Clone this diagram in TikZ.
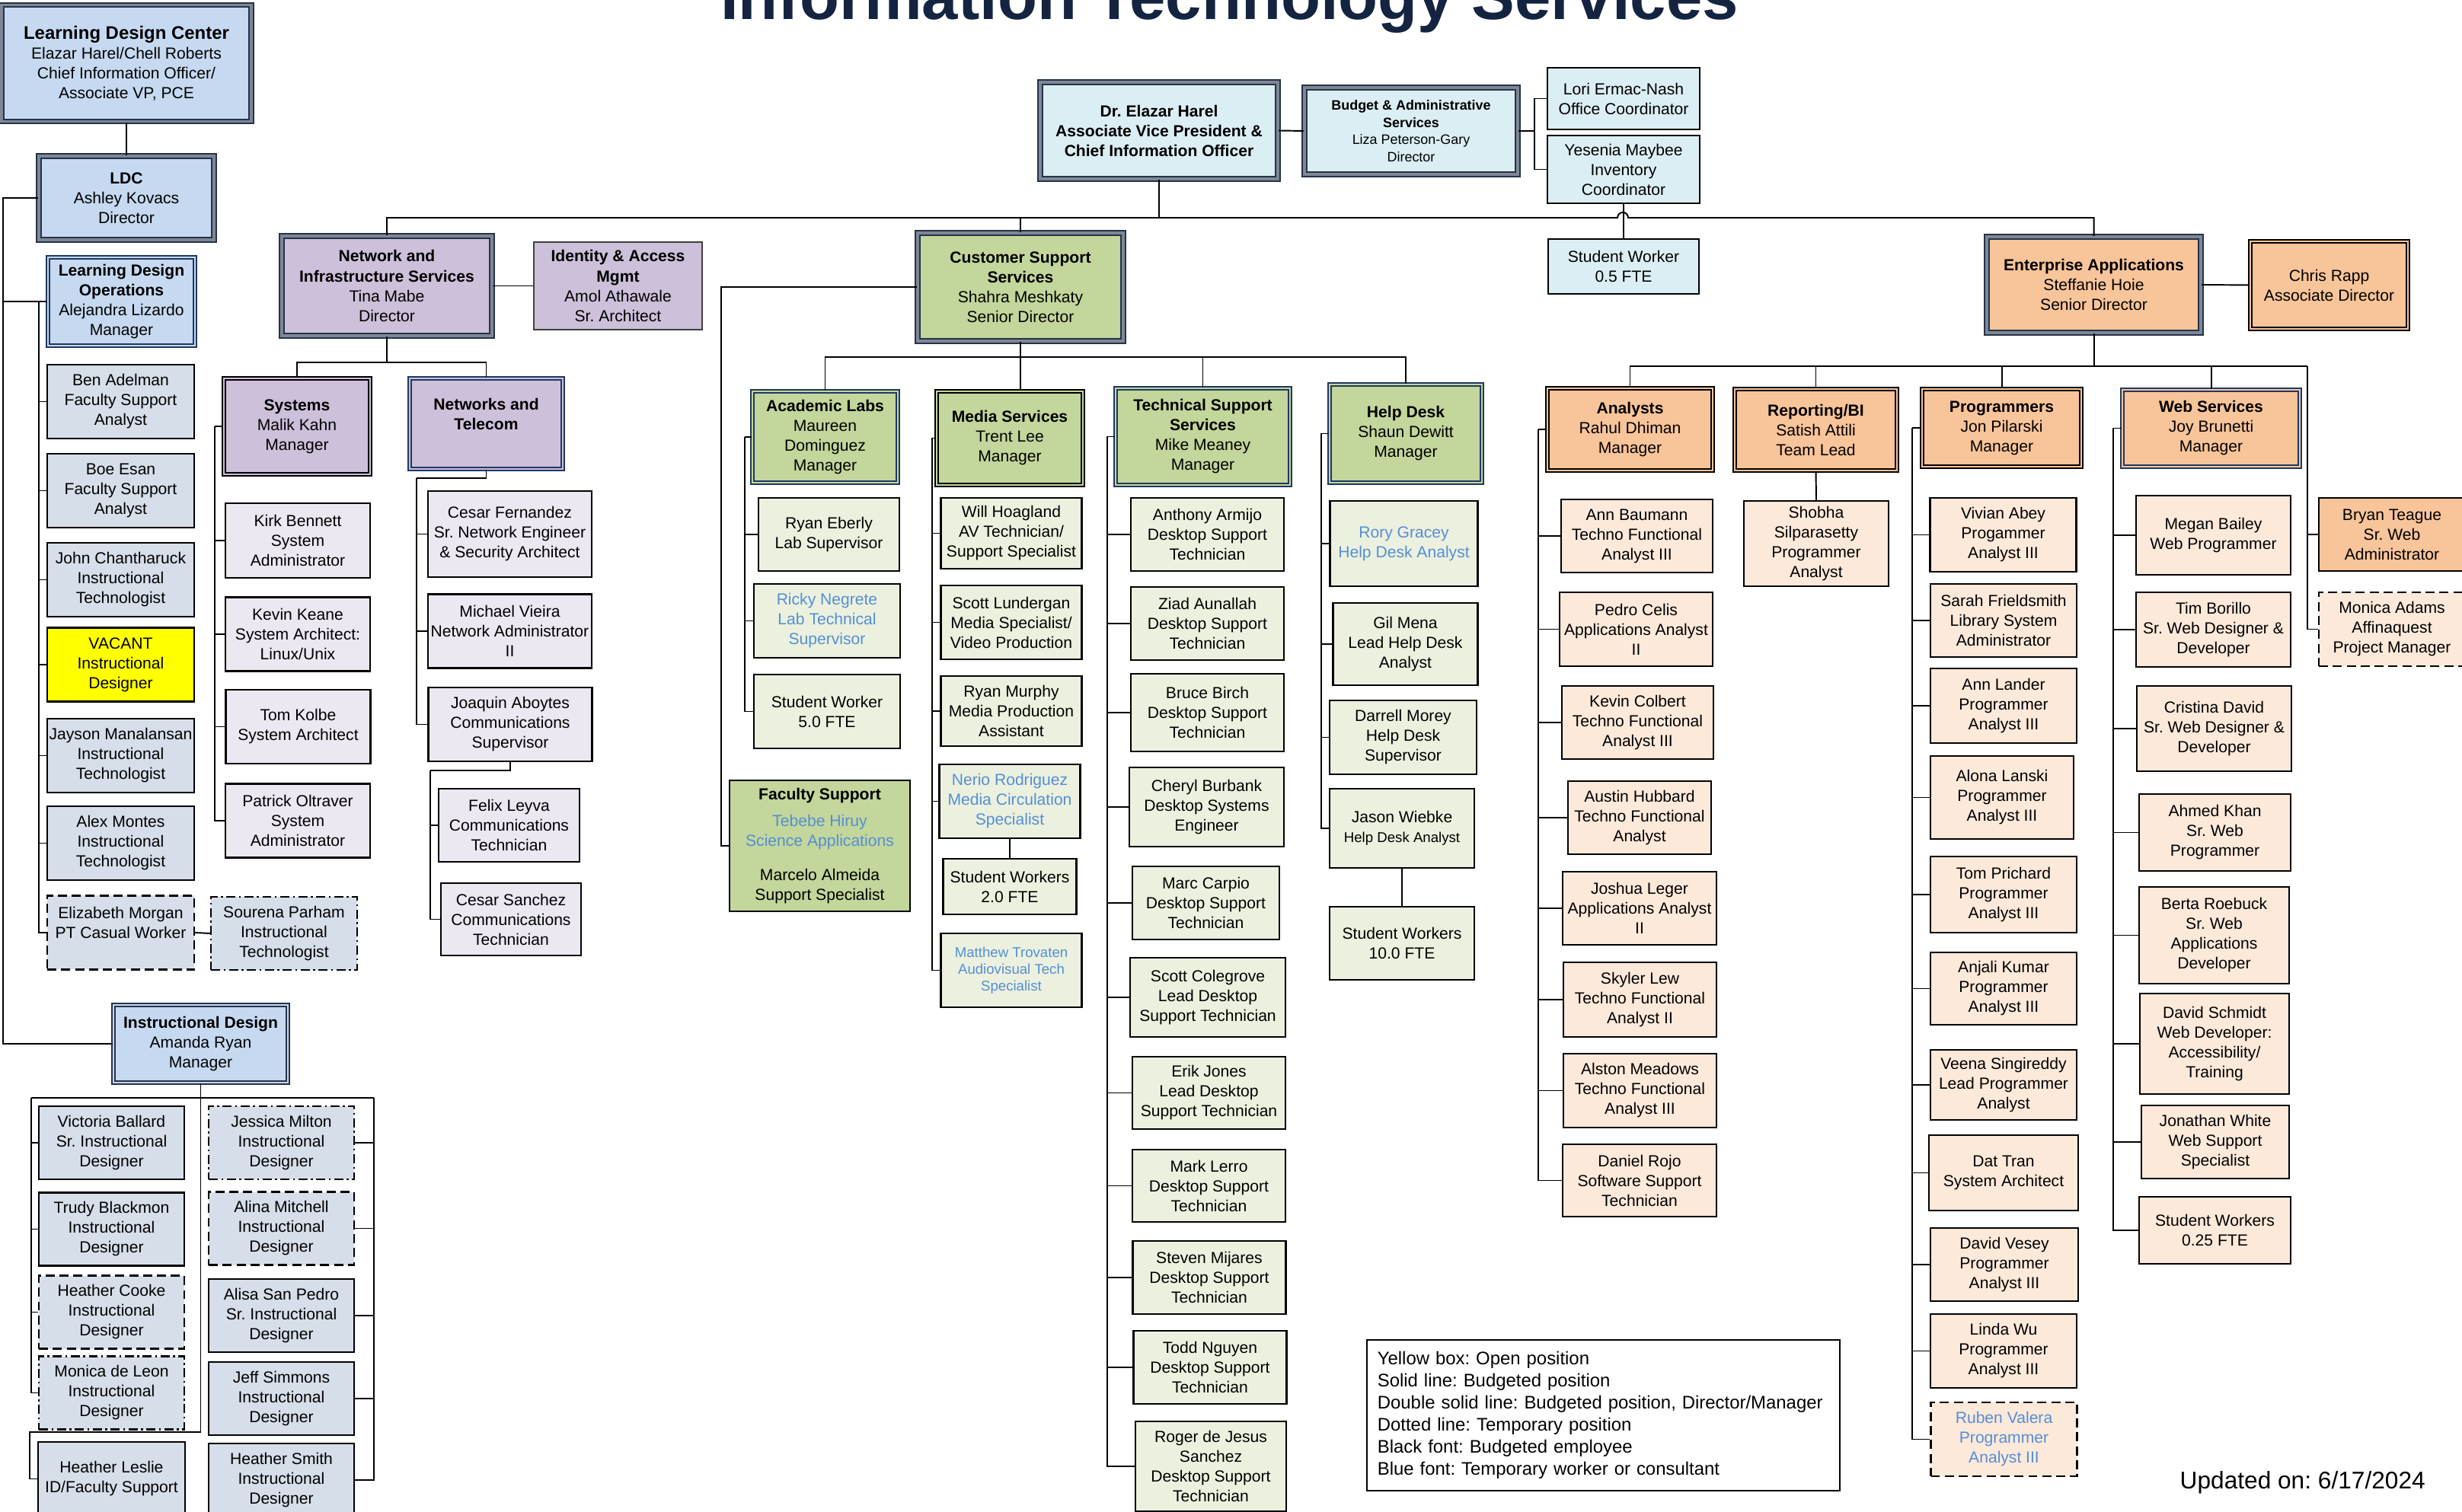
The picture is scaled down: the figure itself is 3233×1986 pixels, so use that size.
\documentclass[tikz,border=0pt]{standalone}
\usepackage{fontspec}
\setmainfont{Liberation Sans}
\usetikzlibrary{positioning}

\definecolor{topfill}{RGB}{219,238,243}
\definecolor{ldhead}{RGB}{198,217,241}
\definecolor{ldstaff}{RGB}{214,222,234}
\definecolor{nihead}{RGB}{204,192,218}
\definecolor{nistaff}{RGB}{235,232,241}
\definecolor{cshead}{RGB}{195,214,155}
\definecolor{csstaff}{RGB}{235,241,222}
\definecolor{eahead}{RGB}{248,196,153}
\definecolor{eastaff}{RGB}{252,233,218}
\definecolor{vacantfill}{RGB}{255,255,0}
\definecolor{tempblue}{RGB}{85,142,213}
\definecolor{dirline}{RGB}{38,50,72}
\definecolor{dirgap}{RGB}{125,135,150}
\definecolor{navyline}{RGB}{31,56,100}
\definecolor{titlenavy}{RGB}{20,36,64}

\begin{document}
\frenchspacing
\begin{tikzpicture}[x=0.01cm, y=-0.01cm]

  % Define box styles
  \tikzset{
    orgbox/.style={draw=black, line width=0.6pt, align=center, inner sep=0pt,
      font=\fontsize{6}{7.4}\selectfont},
    boxsize/.style 2 args={minimum width=#1*0.01cm, minimum height=#2*0.01cm},
    staffbox/.style={orgbox, fill=#1},
    tempbox/.style={orgbox, fill=#1, dash pattern=on 3.4pt off 1.8pt},
    tempdotbox/.style={orgbox, fill=#1, dash pattern=on 3.4pt off 1.3pt on 0.7pt off 1.3pt},
    mgrbox/.style 2 args={orgbox, fill=#1, draw=#2, line width=0.45pt, double=#1, double distance=0.8pt},
    dirbox/.style={orgbox, fill=#1, draw=dirline, line width=0.65pt, double=dirgap, double distance=0.9pt},
    tmptext/.style={text=tempblue},
    smalltext/.style={font=\fontsize{5.3}{6.2}\selectfont},
    link/.style={draw=black, line width=0.55pt},
    ldcol/.style={staffbox=ldstaff, boxsize={193}{97}},
    syscol/.style={staffbox=nistaff, boxsize={190}{97}},
    ntcol/.style={staffbox=nistaff, boxsize={215}{97}},
    labcol/.style={staffbox=csstaff, boxsize={192}{97}},
    mediacol/.style={staffbox=csstaff, boxsize={185}{97}},
    tsscol/.style={staffbox=csstaff, boxsize={201}{96}},
    hdcol/.style={staffbox=csstaff, boxsize={194}{100}},
    eacol/.style={staffbox=eastaff, boxsize={200}{97}},
    progcol/.style={staffbox=eastaff, boxsize={192}{97}},
    webcol/.style={staffbox=eastaff, boxsize={202}{98}},
    idcol/.style={staffbox=ldstaff, boxsize={191}{96}}
  }

  \useasboundingbox (0,0) rectangle (3233,1986);
  \clip (0,0) rectangle (3233,1986);

  % Title
  \node[anchor=base, text=titlenavy, font=\fontsize{24.2}{28}\selectfont\bfseries] (title) at (1614.5,26) {Information Technology Services};

  % Learning Design Center
  \node[dirbox=ldhead, boxsize={328}{153}] (ldcenter) at (166,83) {\textbf{\fontsize{6.8}{7.4}\selectfont Learning Design Center}\\Elazar Harel/Chell Roberts\\Chief Information Officer/\\Associate VP, PCE};
  \node[dirbox=ldhead, boxsize={230}{110}] (ldc) at (166,260) {\textbf{LDC}\\Ashley Kovacs\\Director};
  \node[mgrbox={ldhead}{navyline}, boxsize={193}{116}] (ldops) at (159.5,396) {\textbf{Learning Design}\\\textbf{Operations}\\Alejandra Lizardo\\Manager};
  \node[ldcol] (ben) at (158.5,527.5) {Ben Adelman\\Faculty Support\\Analyst};
  \node[ldcol] (boe) at (158.5,644.5) {Boe Esan\\Faculty Support\\Analyst};
  \node[ldcol] (john) at (158.5,761.5) {John Chantharuck\\Instructional\\Technologist};
  \node[ldcol, staffbox=vacantfill] (vacant) at (158.5,873) {VACANT\\Instructional\\Designer};
  \node[ldcol] (jayson) at (158.5,992.5) {Jayson Manalansan\\Instructional\\Technologist};
  \node[ldcol] (alex) at (158.5,1107.5) {Alex Montes\\Instructional\\Technologist};
  \node[ldcol, tempbox=ldstaff] (eliz) at (158.5,1225) {Elizabeth Morgan\\PT Casual Worker\\\mbox{}};
  \node[ldcol, tempdotbox=ldstaff, boxsize={192}{96}] (sourena) at (373,1226) {Sourena Parham\\Instructional\\Technologist};

  % Instructional Design
  \node[mgrbox={ldhead}{dirline}, boxsize={229}{102}] (instr) at (263.5,1371) {\textbf{Instructional Design}\\Amanda Ryan\\Manager};
  \node[idcol] (victoria) at (146.5,1501) {Victoria Ballard\\Sr. Instructional\\Designer};
  \node[idcol] (trudy) at (146.5,1614.5) {Trudy Blackmon\\Instructional\\Designer};
  \node[idcol, tempbox=ldstaff] (heatherc) at (146.5,1723.5) {Heather Cooke\\Instructional\\Designer};
  \node[idcol, tempdotbox=ldstaff] (monicad) at (146.5,1829.5) {Monica de Leon\\Instructional\\Designer};
  \node[idcol, boxsize={193}{97}] (leslie) at (146.5,1942.5) {Heather Leslie\\ID/Faculty Support};
  \node[idcol, tempdotbox=ldstaff] (jessica) at (369.5,1501) {Jessica Milton\\Instructional\\Designer};
  \node[idcol, tempbox=ldstaff] (alina) at (369.5,1613.5) {Alina Mitchell\\Instructional\\Designer};
  \node[idcol] (alisa) at (369.5,1728) {Alisa San Pedro\\Sr. Instructional\\Designer};
  \node[idcol] (jeff) at (369.5,1837) {Jeff Simmons\\Instructional\\Designer};
  \node[idcol] (heathers) at (369.5,1944) {Heather Smith\\Instructional\\Designer};

  % Network and Infrastructure Services
  \node[dirbox=nihead, boxsize={276}{131}] (nis) at (508,375.5) {\textbf{Network and}\\\textbf{Infrastructure Services}\\Tina Mabe\\Director};
  \node[staffbox=nihead, draw=black!75, line width=0.8pt, boxsize={221}{115}] (iam) at (811.5,375.5) {\textbf{Identity \& Access}\\\textbf{Mgmt}\\Amol Athawale\\Sr. Architect};
  \node[mgrbox={nihead}{black}, boxsize={192}{126}] (systems) at (390,560) {\textbf{Systems}\\Malik Kahn\\Manager};
  \node[mgrbox={nihead}{navyline}, boxsize={201}{119}] (nettel) at (638.5,556.5) {\textbf{Networks and}\\\textbf{Telecom}\\\mbox{}};
  \node[syscol, boxsize={190}{98}] (kirk) at (391,710) {Kirk Bennett\\System\\Administrator};
  \node[syscol] (kevin) at (391,833) {Kevin Keane\\System Architect:\\Linux/Unix};
  \node[syscol] (tom) at (391.5,954.5) {Tom Kolbe\\System Architect};
  \node[syscol] (patrick) at (391,1078) {Patrick Oltraver\\System\\Administrator};
  \node[ntcol, boxsize={215}{113}] (cesarf) at (669.5,701.5) {Cesar Fernandez\\Sr. Network Engineer\\\& Security Architect};
  \node[ntcol] (michael) at (669.5,829) {Michael Vieira\\Network Administrator\\II};
  \node[ntcol] (joaquin) at (670,951.5) {Joaquin Aboytes\\Communications\\Supervisor};
  \node[ntcol, boxsize={185}{96}] (felix) at (668.5,1084) {Felix Leyva\\Communications\\Technician};
  \node[ntcol, boxsize={184}{95}] (cesars) at (671,1207.5) {Cesar Sanchez\\Communications\\Technician};

  % Office of the CIO
  \node[dirbox=topfill, boxsize={312}{127}] (cio) at (1522,171.5) {\textbf{Dr. Elazar Harel}\\\textbf{Associate Vice President \&}\\\textbf{Chief Information Officer}};
  \node[dirbox=topfill, boxsize={280}{114}, font=\fontsize{5.1}{6.4}\selectfont] (budget) at (1853,172) {\textbf{Budget \& Administrative}\\\textbf{Services}\\Liza Peterson-Gary\\Director};
  \node[staffbox=topfill, boxsize={200}{81}] (lori) at (2132,129.5) {Lori Ermac-Nash\\Office Coordinator};
  \node[staffbox=topfill, boxsize={200}{89}] (yesenia) at (2132,222.5) {Yesenia Maybee\\Inventory\\Coordinator};
  \node[staffbox=topfill, boxsize={198}{72}] (sw05) at (2132,350) {Student Worker\\0.5 FTE};

  % Customer Support Services
  \node[dirbox=cshead, boxsize={270}{142}] (css) at (1340,377) {\textbf{Customer Support}\\\textbf{Services}\\Shahra Meshkaty\\Senior Director};
  \node[mgrbox={cshead}{navyline}, boxsize={191}{120}] (labs) at (1083.5,574) {\textbf{Academic Labs}\\Maureen\\Dominguez\\Manager};
  \node[mgrbox={cshead}{black}, boxsize={192}{123}] (media) at (1326,575.5) {\textbf{Media Services}\\Trent Lee\\Manager};
  \node[mgrbox={cshead}{navyline}, boxsize={229}{127}] (tss) at (1579.5,573.5) {\textbf{Technical Support}\\\textbf{Services}\\Mike Meaney\\Manager};
  \node[mgrbox={cshead}{navyline}, boxsize={200}{129}] (helpdesk) at (1846,569.5) {\textbf{Help Desk}\\Shaun Dewitt\\Manager};

  \node[labcol, boxsize={185}{96}] (ryane) at (1088.5,702) {Ryan Eberly\\Lab Supervisor};
  \node[labcol, tmptext] (ricky) at (1086,815.5) {Ricky Negrete\\Lab Technical\\Supervisor};
  \node[labcol] (sw50) at (1086,934.5) {Student Worker\\5.0 FTE};
  \node[staffbox=cshead, boxsize={237}{172}] (faculty) at (1076.5,1111) {\textbf{Faculty Support}\\[2.6pt]\textcolor{tempblue}{Tebebe Hiruy}\\\textcolor{tempblue}{Science Applications}\\[5.4pt]Marcelo Almeida\\Support Specialist};

  \node[mediacol, boxsize={185}{93}] (will) at (1328,700.5) {Will Hoagland\\AV Technician/\\Support Specialist};
  \node[mediacol] (scottl) at (1328,817.5) {Scott Lundergan\\Media Specialist/\\Video Production};
  \node[mediacol, boxsize={185}{92}] (ryanm) at (1328,934) {Ryan Murphy\\Media Production\\Assistant};
  \node[mediacol, tmptext] (nerio) at (1326,1052.5) {Nerio Rodriguez\\Media Circulation\\Specialist};
  \node[mediacol, boxsize={175}{73}] (sw20) at (1326,1164.5) {Student Workers\\2.0 FTE};
  \node[mediacol, tmptext, smalltext] (matthew) at (1328,1274.5) {Matthew Trovaten\\Audiovisual Tech\\Specialist};

  \node[tsscol] (anthony) at (1585.5,702) {Anthony Armijo\\Desktop Support\\Technician};
  \node[tsscol] (ziad) at (1585.5,819) {Ziad Aunallah\\Desktop Support\\Technician};
  \node[tsscol, boxsize={201}{102}] (bruce) at (1585.5,936) {Bruce Birch\\Desktop Support\\Technician};
  \node[tsscol, boxsize={203}{104}] (cheryl) at (1584.5,1060) {Cheryl Burbank\\Desktop Systems\\Engineer};
  \node[tsscol, boxsize={193}{96}] (marc) at (1583.5,1186) {Marc Carpio\\Desktop Support\\Technician};
  \node[tsscol, boxsize={204}{104}] (scottc) at (1586,1310) {Scott Colegrove\\Lead Desktop\\Support Technician};
  \node[tsscol, boxsize={201}{95}] (erik) at (1587.5,1435.5) {Erik Jones\\Lead Desktop\\Support Technician};
  \node[tsscol, boxsize={201}{95}] (mark) at (1587.5,1557.5) {Mark Lerro\\Desktop Support\\Technician};
  \node[tsscol] (steven) at (1588,1678) {Steven Mijares\\Desktop Support\\Technician};
  \node[tsscol] (todd) at (1589,1796) {Todd Nguyen\\Desktop Support\\Technician};
  \node[tsscol, boxsize={198}{118}] (roger) at (1590,1926) {Roger de Jesus\\Sanchez\\Desktop Support\\Technician};

  \node[hdcol, tmptext, boxsize={194}{112}] (rory) at (1843.5,714) {Rory Gracey\\Help Desk Analyst};
  \node[hdcol, boxsize={190}{108}] (gil) at (1845.5,846) {Gil Mena\\Lead Help Desk\\Analyst};
  \node[hdcol, boxsize={193}{97}] (darrell) at (1842.5,968.5) {Darrell Morey\\Help Desk\\Supervisor};
  \node[hdcol, boxsize={190}{104}] (jason) at (1841,1088) {Jason Wiebke\\{\fontsize{5.3}{6.4}\selectfont Help Desk Analyst}};
  \node[hdcol, boxsize={190}{96}] (sw10) at (1841,1239) {Student Workers\\10.0 FTE};

  % Enterprise Applications
  \node[dirbox=eahead, boxsize={281}{126}] (ea) at (2749.5,374) {\textbf{Enterprise Applications}\\Steffanie Hoie\\Senior Director};
  \node[mgrbox={eahead}{black}, boxsize={207}{115}] (rapp) at (3058.5,374.5) {Chris Rapp\\Associate Director};
  \node[mgrbox={eahead}{black}, boxsize={217}{108}] (analysts) at (2140.5,564) {\textbf{Analysts}\\Rahul Dhiman\\Manager};
  \node[mgrbox={eahead}{black}, boxsize={213}{107}] (reporting) at (2384.5,564.5) {\textbf{Reporting/BI}\\Satish Attili\\Team Lead};
  \node[mgrbox={eahead}{black}, boxsize={209}{102}] (programmers) at (2628.5,562) {\textbf{Programmers}\\Jon Pilarski\\Manager};
  \node[mgrbox={eahead}{navyline}, boxsize={233}{101}] (web) at (2903.5,562.5) {\textbf{Web Services}\\Joy Brunetti\\Manager};

  \node[eacol, boxsize={199}{96}] (annb) at (2149.5,704) {Ann Baumann\\Techno Functional\\Analyst III};
  \node[eacol, boxsize={201}{97}] (pedro) at (2148.5,826.5) {Pedro Celis\\Applications Analyst\\II};
  \node[eacol, boxsize={199}{96}] (kevinc) at (2150.5,949) {Kevin Colbert\\Techno Functional\\Analyst III};
  \node[eacol, boxsize={188}{96}] (austin) at (2153,1074) {Austin Hubbard\\Techno Functional\\Analyst};
  \node[eacol, boxsize={202}{96}] (joshua) at (2153,1193) {Joshua Leger\\Applications Analyst\\II};
  \node[eacol, boxsize={201}{98}] (skyler) at (2153.5,1313) {Skyler Lew\\Techno Functional\\Analyst II};
  \node[eacol, boxsize={201}{97}] (alston) at (2153.5,1432.5) {Alston Meadows\\Techno Functional\\Analyst III};
  \node[eacol, boxsize={202}{95}] (daniel) at (2153,1550.5) {Daniel Rojo\\Software Support\\Technician};
  \node[eacol, boxsize={190}{112}] (shobha) at (2385,714) {Shobha\\Silparasetty\\Programmer\\Analyst};

  \node[progcol] (vivian) at (2630.5,702.5) {Vivian Abey\\Progammer\\Analyst III};
  \node[progcol, boxsize={192}{96}] (sarah) at (2631,815) {Sarah Frieldsmith\\Library System\\Administrator};
  \node[progcol, boxsize={192}{98}] (annl) at (2631,927) {Ann Lander\\Programmer\\Analyst III};
  \node[progcol, boxsize={188}{109}] (alona) at (2629,1047.5) {Alona Lanski\\Programmer\\Analyst III};
  \node[progcol, boxsize={192}{100}] (tomp) at (2631,1175) {Tom Prichard\\Programmer\\Analyst III};
  \node[progcol, boxsize={192}{95}] (anjali) at (2631,1298.5) {Anjali Kumar\\Programmer\\Analyst III};
  \node[progcol, boxsize={192}{92}] (veena) at (2631,1425) {Veena Singireddy\\Lead Programmer\\Analyst};
  \node[progcol, boxsize={196}{99}] (dat) at (2631,1540.5) {Dat Tran\\System Architect};
  \node[progcol, boxsize={194}{96}] (davidv) at (2632,1661) {David Vesey\\Programmer\\Analyst III};
  \node[progcol] (linda) at (2631,1774.5) {Linda Wu\\Programmer\\Analyst III};
  \node[progcol, tempbox=eastaff, tmptext] (ruben) at (2631.5,1890.5) {Ruben Valera\\Programmer\\Analyst III};

  \node[webcol, boxsize={203}{104}] (megan) at (2906.5,703) {Megan Bailey\\Web Programmer};
  \node[webcol, boxsize={203}{98}] (tim) at (2906.5,827) {Tim Borillo\\Sr. Web Designer \&\\Developer};
  \node[webcol, boxsize={203}{112}] (cristina) at (2907.5,957) {Cristina David\\Sr. Web Designer \&\\Developer};
  \node[webcol, boxsize={199}{101}] (ahmed) at (2908.5,1093.5) {Ahmed Khan\\Sr. Web\\Programmer};
  \node[webcol, boxsize={197}{127}] (berta) at (2907.5,1228.5) {Berta Roebuck\\Sr. Web\\Applications\\Developer};
  \node[webcol, boxsize={196}{132}] (davids) at (2908,1371) {David Schmidt\\Web Developer:\\Accessibility/\\Training};
  \node[webcol, boxsize={194}{96}] (jonathan) at (2909,1500) {Jonathan White\\Web Support\\Specialist};
  \node[webcol, boxsize={199}{88}] (sw025) at (2908.5,1616) {Student Workers\\0.25 FTE};
  \node[staffbox=eahead, boxsize={192}{96}] (bryan) at (3141,702) {Bryan Teague\\Sr. Web\\Administrator};
  \node[tempbox=eastaff, boxsize={192}{97}] (monicaa) at (3141,826.5) {Monica Adams\\Affinaquest\\Project Manager};

  % Legend and date
  \node[orgbox, align=left, text width=5.93cm, boxsize={621}{198}, font=\fontsize{6.8}{8.25}\selectfont] (legend) at (2105.5,1859) {Yellow box: Open position\\Solid line: Budgeted position\\Double solid line: Budgeted position, Director/Manager\\Dotted line: Temporary position\\Black font: Budgeted employee\\Blue font: Temporary worker or consultant};
  \node[anchor=base west, inner sep=0pt, font=\fontsize{9}{11}\selectfont] (updated) at (2862,1955) {Updated on: 6/17/2024};

  % Connectors: top level
  \coordinate (hop) at (2124,286);
  \draw[link] (nis.north) |- (hop) arc[start angle=180, end angle=0, radius=0.07cm] -| (ea.north);
  \draw[link] (cio.south) -- (cio.south |- hop);
  \draw[link] (css.north) -- (css.north |- hop);
  \draw[link] (cio.east) -- (budget.west);
  \coordinate (budspine) at (2015,172);
  \draw[link] (budget.east) -- (budspine);
  \draw[link] (budspine) |- (lori.west);
  \draw[link] (budspine) |- (yesenia.west);
  \draw[link] (yesenia.south) -- (sw05.north);

  % Connectors: learning design
  \draw[link] (ldcenter.south) -- (ldc.north);
  \coordinate (ldcspine) at (4,260);
  \draw[link] (ldc.west) -- (ldcspine) |- (instr.west);
  \draw[link] (ldcspine) |- (ldops.west);
  \coordinate (opsspine) at (51,396);
  \foreach \n in {ben,boe,john,vacant,jayson,alex,eliz}
    \draw[link] (opsspine) |- (\n.west);
  \draw[link] (eliz.east) -- (sourena.west);
  \coordinate (idbus) at (263.5,1442);
  \coordinate (idleft) at (41,1442);
  \coordinate (idright) at (491,1442);
  \coordinate (lesliejog) at (39,1881);
  \draw[link] (instr.south) -- (idbus);
  \draw[link] (idleft) -- (idright);
  \foreach \n in {victoria,trudy,heatherc,monicad}
    \draw[link] (idleft) |- (\n.west);
  \foreach \n in {jessica,alina,alisa,jeff,heathers}
    \draw[link] (idright) |- (\n.east);
  \draw[link] (idbus) |- (lesliejog) |- (leslie.west);

  % Connectors: network and infrastructure
  \draw[link] (nis.east) -- (iam.west);
  \coordinate (nisbus) at (508,476);
  \draw[link] (nis.south) -- (nisbus);
  \draw[link] (systems.north) |- (nisbus) -| (nettel.north);
  \coordinate (sysspine) at (282,560);
  \draw[link] (systems.west) -- (sysspine);
  \foreach \n in {kirk,kevin,tom,patrick}
    \draw[link] (sysspine) |- (\n.west);
  \coordinate (ntspine) at (547,628);
  \draw[link] (nettel.south) |- (ntspine);
  \foreach \n in {cesarf,michael,joaquin}
    \draw[link] (ntspine) |- (\n.west);
  \coordinate (joaqspine) at (565,1012);
  \draw[link] (joaquin.south) |- (joaqspine);
  \foreach \n in {felix,cesars}
    \draw[link] (joaqspine) |- (\n.west);

  % Connectors: customer support
  \coordinate (cssleft) at (947,377);
  \draw[link] (css.west) -- (cssleft) |- (faculty.west);
  \coordinate (cssbus) at (1340,469);
  \draw[link] (css.south) -- (css.south |- media.north);
  \draw[link] (labs.north) |- (cssbus) -| (helpdesk.north);
  \draw[link] (tss.north) -- (tss.north |- cssbus);
  \coordinate (labspine) at (978,574);
  \draw[link] (labs.west) -- (labspine);
  \foreach \n in {ryane,ricky,sw50}
    \draw[link] (labspine) |- (\n.west);
  \coordinate (mediaspine) at (1224,575.5);
  \draw[link] (media.west) -- (mediaspine);
  \foreach \n in {will,scottl,ryanm,nerio,matthew}
    \draw[link] (mediaspine) |- (\n.west);
  \draw[link] (nerio.south) -- (sw20.north);
  \coordinate (tssspine) at (1454,573.5);
  \draw[link] (tss.west) -- (tssspine);
  \foreach \n in {anthony,ziad,bruce,cheryl,marc,scottc,erik,mark,steven,todd,roger}
    \draw[link] (tssspine) |- (\n.west);
  \coordinate (hdspine) at (1735,569.5);
  \draw[link] (helpdesk.west) -- (hdspine);
  \foreach \n in {rory,gil,darrell,jason}
    \draw[link] (hdspine) |- (\n.west);
  \draw[link] (jason.south) -- (sw10.north);

  % Connectors: enterprise applications
  \draw[link] (ea.east) -- (rapp.west);
  \coordinate (eabus) at (2749.5,481);
  \coordinate (eaedge) at (3030,481);
  \draw[link] (ea.south) -- (eabus);
  \draw[link] (analysts.north) |- (eaedge);
  \foreach \n in {reporting,programmers,web}
    \draw[link] (\n.north) -- (\n.north |- eabus);
  \draw[link] (eaedge) |- (bryan.west);
  \draw[link] (eaedge) |- (monicaa.west);
  \draw[link] (reporting.south) -- (shobha.north);
  \coordinate (anspine) at (2020,564);
  \draw[link] (analysts.west) -- (anspine);
  \foreach \n in {annb,pedro,kevinc,austin,joshua,skyler,alston,daniel}
    \draw[link] (anspine) |- (\n.west);
  \coordinate (progspine) at (2511,562);
  \draw[link] (programmers.west) -- (progspine);
  \foreach \n in {vivian,sarah,annl,alona,tomp,anjali,veena,dat,davidv,linda,ruben}
    \draw[link] (progspine) |- (\n.west);
  \coordinate (webspine) at (2775,562.5);
  \draw[link] (web.west) -- (webspine);
  \foreach \n in {megan,tim,cristina,ahmed,berta,davids,jonathan,sw025}
    \draw[link] (webspine) |- (\n.west);

\end{tikzpicture}
\end{document}
